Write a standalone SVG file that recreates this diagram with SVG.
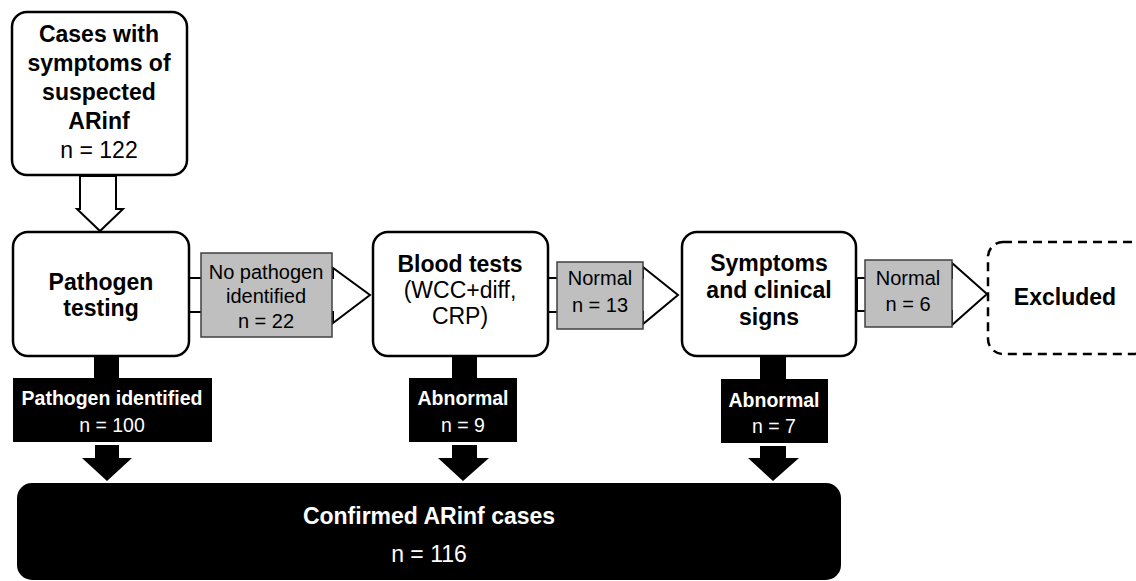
<svg xmlns="http://www.w3.org/2000/svg" width="1136" height="581" viewBox="0 0 1136 581">
<style>
  text { font-family: "Liberation Sans", Arial, sans-serif; text-anchor: middle; }
  .node { fill: #ffffff; stroke: #000000; stroke-width: 2.5; }
  .dash { fill: #ffffff; stroke: #000000; stroke-width: 2.5; stroke-dasharray: 9 6; }
  .hollow { fill: #ffffff; stroke: #000000; stroke-width: 2; stroke-linejoin: miter; }
  .gray { fill: #bfbfbf; stroke: #404040; stroke-width: 1.5; }
  .solid { fill: #000000; stroke: none; }
  .big { font-size: 23px; font-weight: bold; fill: #000; }
  .reg { font-size: 23px; fill: #000; }
  .lab { font-size: 20px; fill: #000; }
  .wb { font-size: 19.5px; font-weight: bold; fill: #fff; }
  .wr { font-size: 19.5px; fill: #fff; }
</style>
<rect width="1136" height="581" fill="#ffffff"/>

<g id="connectors">
  <!-- top hollow down arrow -->
  <polygon class="hollow" points="80,176 116,176 116,209 123,209 100,231 77,209 80,209"/>
  <!-- horizontal hollow arrows -->
  <polygon class="hollow" points="189,278 333,278 333,268 370,295 333,323 333,312 189,312"/>
  <polygon class="hollow" points="548,278 643,278 643,267 678,295 643,324 643,312 548,312"/>
  <polygon class="hollow" points="857,278 952,278 952,263 987,294 952,325 952,311 857,311"/>
  <!-- gray labels -->
  <g id="label-no-pathogen">
    <rect class="gray" x="201" y="253" width="131" height="84"/>
    <text class="lab" x="266" y="279">No pathogen</text>
    <text class="lab" x="266" y="303">identified</text>
    <text class="lab" x="266" y="328">n = 22</text>
  </g>
  <g id="label-normal-13">
    <rect class="gray" x="557" y="262" width="86" height="67"/>
    <text class="lab" x="600" y="285">Normal</text>
    <text class="lab" x="600" y="312">n = 13</text>
  </g>
  <g id="label-normal-6">
    <rect class="gray" x="865" y="260" width="87" height="67"/>
    <text class="lab" x="908" y="285">Normal</text>
    <text class="lab" x="908" y="311">n = 6</text>
  </g>
  <!-- black down connectors -->
  <rect class="solid" x="94" y="356" width="25" height="23"/>
  <polygon class="solid" points="95,445 119,445 119,458 132,458 107,481 82,458 95,458"/>
  <rect class="solid" x="452" y="356" width="25" height="23"/>
  <polygon class="solid" points="452,445 477,445 477,458 489,458 463,481 438,458 452,458"/>
  <rect class="solid" x="760" y="356" width="26" height="24"/>
  <polygon class="solid" points="760,446 786,446 786,458 799,458 773,481 748,458 760,458"/>
  <!-- black labels -->
  <g id="label-pathogen-identified">
    <rect class="solid" x="13" y="378" width="199" height="64"/>
    <text class="wb" x="112" y="405">Pathogen identified</text>
    <text class="wr" x="112" y="432">n = 100</text>
  </g>
  <g id="label-abnormal-9">
    <rect class="solid" x="409" y="378" width="108" height="64"/>
    <text class="wb" x="463" y="405">Abnormal</text>
    <text class="wr" x="463" y="432">n = 9</text>
  </g>
  <g id="label-abnormal-7">
    <rect class="solid" x="721" y="379" width="107" height="64"/>
    <text class="wb" x="774" y="407">Abnormal</text>
    <text class="wr" x="774" y="433">n = 7</text>
  </g>
</g>

<g id="node-cases">
  <rect class="node" x="12" y="12" width="175" height="163" rx="15"/>
  <text class="big" x="99" y="42">Cases with</text>
  <text class="big" x="99" y="71">symptoms of</text>
  <text class="big" x="99" y="100">suspected</text>
  <text class="big" x="99" y="129">ARinf</text>
  <text class="reg" x="99" y="158">n = 122</text>
</g>

<g id="node-pathogen-testing">
  <rect class="node" x="13" y="232" width="176" height="124" rx="15"/>
  <text class="big" x="101" y="290">Pathogen</text>
  <text class="big" x="101" y="316">testing</text>
</g>

<g id="node-blood-tests">
  <rect class="node" x="373" y="232" width="175" height="124" rx="15"/>
  <text class="big" x="460" y="272">Blood tests</text>
  <text class="reg" x="460" y="298">(WCC+diff,</text>
  <text class="reg" x="460" y="324">CRP)</text>
</g>

<g id="node-symptoms">
  <rect class="node" x="682" y="232" width="174" height="124" rx="15"/>
  <text class="big" x="769" y="271">Symptoms</text>
  <text class="big" x="769" y="298">and clinical</text>
  <text class="big" x="769" y="325">signs</text>
</g>

<g id="node-excluded">
  <rect class="dash" x="988" y="242" width="160" height="112" rx="15"/>
  <text class="big" x="1065" y="305">Excluded</text>
</g>

<g id="node-confirmed">
  <rect x="17" y="483" width="824" height="97" rx="15" fill="#000000"/>
  <text x="429" y="524" style="font-size:23px;font-weight:bold;fill:#fff">Confirmed ARinf cases</text>
  <text x="429" y="562" style="font-size:23px;fill:#fff">n = 116</text>
</g>
</svg>
